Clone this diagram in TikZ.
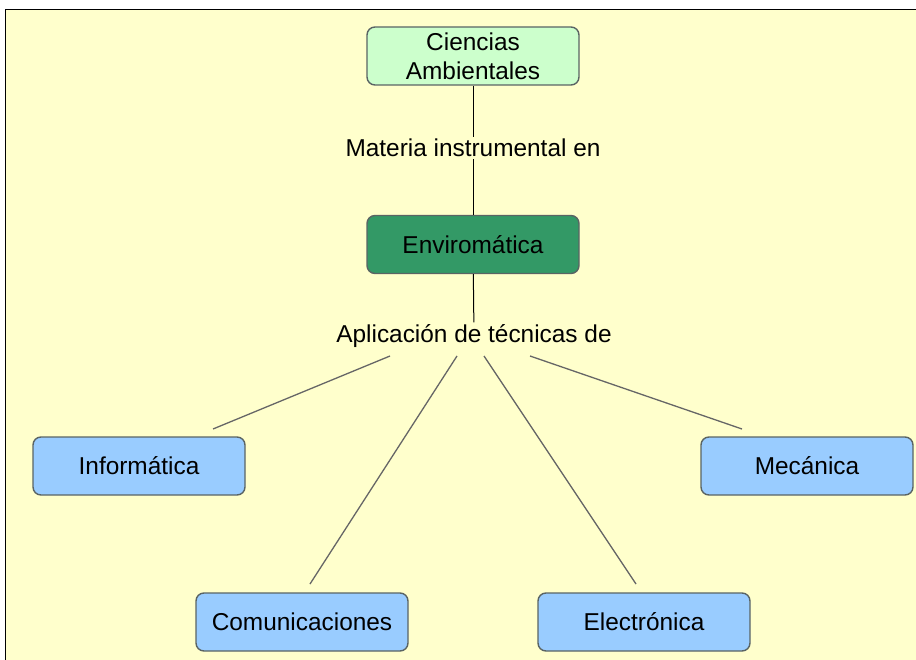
\documentclass[tikz,border=0pt]{standalone}
\usepackage{fontspec}
\setmainfont{Liberation Sans}
\definecolor{bgc}{HTML}{FFFFCC}
\definecolor{greenl}{HTML}{CCFFCC}
\definecolor{greend}{HTML}{339966}
\definecolor{bluel}{HTML}{99CCFF}
\definecolor{boxline}{HTML}{5A6464}
\definecolor{conn}{HTML}{666666}
\tikzset{
  box/.style={draw=boxline, line width=1.4pt, rounded corners=8pt, minimum width=212pt, minimum height=58pt, inner sep=0pt, align=center, font=\fontsize{24.4}{29}\selectfont, text=black},
  lab/.style={fill=bgc, inner sep=2pt, font=\fontsize{24.4}{29}\selectfont},
  vline/.style={draw=black, line width=1pt},
  cline/.style={draw=conn, line width=1.3pt}
}
\begin{document}
\begin{tikzpicture}[x=1pt,y=-1pt]
\useasboundingbox (0,0) rectangle (916,660);
\fill[white] (0,0) rectangle (916,660);
\fill[bgc] (5,10) rectangle (916,660);
\draw[black, line width=1pt] (5,660) -- (5,10) -- (916,10);

\node[box, fill=greenl] (cien) at (473,56) {Ciencias\\Ambientales};
\node[box, fill=greend] (envi) at (473,244.5) {Enviromática};
\node[box, fill=bluel] (info) at (139,466) {Informática};
\node[box, fill=bluel] (meca) at (807,466) {Mecánica};
\node[box, fill=bluel] (comu) at (302,622) {Comunicaciones};
\node[box, fill=bluel] (elec) at (644,622) {Electrónica};

\node[lab] (l1) at (473,148) {Materia instrumental en};
\node[lab] (l2) at (474,336) {Aplicación de técnicas de};

\draw[vline] (cien) -- (l1);
\draw[vline] (l1) -- (envi);
\draw[vline] (envi) -- (l2);

\coordinate (s1) at (390,356);
\coordinate (s2) at (457,356);
\coordinate (s3) at (484,356);
\coordinate (s4) at (530,356);
\coordinate (e1) at (213,429);
\coordinate (e2) at (310,584);
\coordinate (e3) at (636,584);
\coordinate (e4) at (742,429);
\draw[cline] (s1) -- (e1);
\draw[cline] (s2) -- (e2);
\draw[cline] (s3) -- (e3);
\draw[cline] (s4) -- (e4);
\end{tikzpicture}
\end{document}
